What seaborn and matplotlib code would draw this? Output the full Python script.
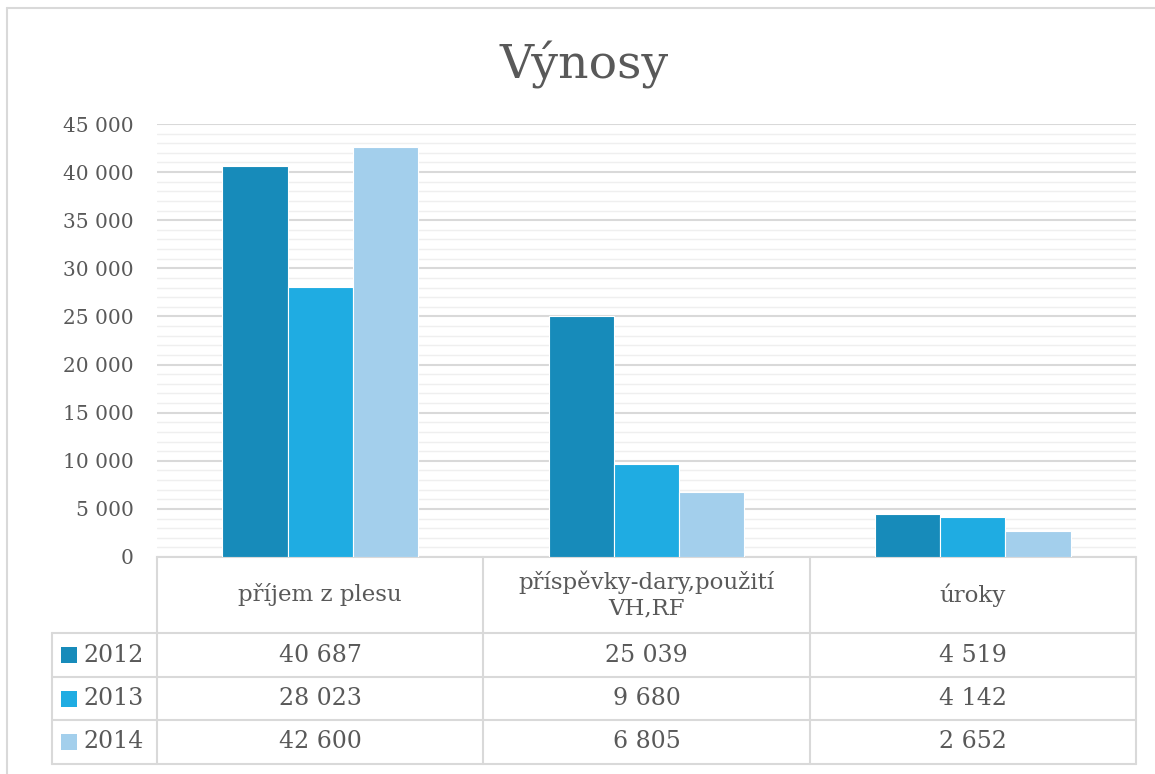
import numpy as np
import pandas as pd
import matplotlib
matplotlib.use("Agg")
import matplotlib.pyplot as plt
import matplotlib.transforms as mtransforms
from matplotlib.lines import Line2D
from matplotlib.patches import Rectangle
from matplotlib.ticker import FuncFormatter, MultipleLocator
import seaborn as sns

# data (table values)
kategorie = ["příjem z plesu", "příspěvky-dary,použití\nVH,RF", "úroky"]
roky = ["2012", "2013", "2014"]
hodnoty_2012 = [40687, 25039, 4519]
hodnoty_2013 = [28023, 9680, 4142]
hodnoty_2014 = [42600, 6805, 2652]
barvy = ["#178BBA", "#1FACE2", "#A3CFEC"]

df = pd.DataFrame({
    "kategorie": kategorie * 3,
    "rok": [r for r in roky for _ in kategorie],
    "hodnota": hodnoty_2012 + hodnoty_2013 + hodnoty_2014,
})

TEXT = "#595959"
GRID = "#D9D9D9"
GRID_MINOR = "#EFEFEF"
FONT = "DejaVu Serif"


def fmt(v):
    return f"{int(round(v)):,}".replace(",", " ")


sns.set_style("white")
plt.rcParams["font.family"] = [FONT]

W, H = 1155, 774
fig = plt.figure(figsize=(W / 100, H / 100), dpi=100)

# plot area in pixels: x 157..1136, y 124..557
ax = fig.add_axes([157 / W, (H - 557) / H, (1136 - 157) / W, (557 - 124) / H])

sns.barplot(data=df, x="kategorie", y="hodnota", hue="rok", palette=barvy,
            width=0.6, saturation=1, edgecolor="white", linewidth=0.8,
            ax=ax, legend=False, zorder=3)

ax.set_xlim(-0.5, 2.5)
ax.set_ylim(0, 45000)
ax.yaxis.set_major_locator(MultipleLocator(5000))
ax.yaxis.set_minor_locator(MultipleLocator(1000))
ax.yaxis.set_major_formatter(FuncFormatter(lambda v, p: fmt(v)))
ax.grid(which="major", axis="y", color=GRID, linewidth=1.5, zorder=0)
ax.grid(which="minor", axis="y", color=GRID_MINOR, linewidth=1.0, zorder=0)
ax.set_axisbelow(True)
ax.tick_params(axis="y", which="both", length=0, pad=17, labelsize=14.5, labelcolor=TEXT)
ax.set_xticks([])
ax.set_xlabel("")
ax.set_ylabel("")
for s in ["left", "right", "top"]:
    ax.spines[s].set_visible(False)
ax.spines["bottom"].set_color(GRID)
ax.spines["bottom"].set_linewidth(1.5)

# data table below the plot
tr = mtransforms.blended_transform_factory(ax.transData, ax.transAxes)
ph = 557 - 124
px_per_cat = (1136 - 157) / 3
row_px = [557, 633, 677, 720, 764]
row_y = [(557 - p) / ph for p in row_px]
col_x = [-0.5, 0.5, 1.5, 2.5]
leg_x = -0.5 - 105 / px_per_cat

line_kw = dict(color=GRID, linewidth=1.5, transform=tr, clip_on=False)
# vertical lines
for cx in col_x:
    ax.add_line(Line2D([cx, cx], [row_y[0], row_y[-1]], **line_kw))
ax.add_line(Line2D([leg_x, leg_x], [row_y[1], row_y[-1]], **line_kw))
# horizontal lines
for ry in row_y[1:]:
    ax.add_line(Line2D([leg_x, col_x[-1]], [ry, ry], **line_kw))

# header
for i, k in enumerate(kategorie):
    ax.text(i, (row_y[0] + row_y[1]) / 2, k, transform=tr, ha="center", va="center",
            fontsize=16.5, color=TEXT, linespacing=1.2, clip_on=False)

# value rows with legend keys
series = [hodnoty_2012, hodnoty_2013, hodnoty_2014]
for j, (rok, vals, c) in enumerate(zip(roky, series, barvy)):
    yc = (row_y[j + 1] + row_y[j + 2]) / 2
    for i, v in enumerate(vals):
        ax.text(i, yc, fmt(v), transform=tr, ha="center", va="center",
                fontsize=17, color=TEXT, clip_on=False)
    # legend key square
    kx = leg_x + 9 / px_per_cat
    kw = 16 / px_per_cat
    khh = 16 / ph
    ax.add_patch(Rectangle((kx, yc - khh / 2), kw, khh, transform=tr,
                           facecolor=c, edgecolor="none", clip_on=False))
    ax.text(kx + kw + 6 / px_per_cat, yc, rok, transform=tr, ha="left",
            va="center", fontsize=17, color=TEXT, clip_on=False)

# title
fig.text(584 / W, 1 - 65 / H, "Výnosy", ha="center", va="center",
         fontsize=34, color=TEXT)

# chart frame (top and left edges visible)
fig.add_artist(Line2D([7 / W, 1], [1 - 8 / H, 1 - 8 / H], color=GRID, linewidth=1.5,
                      transform=fig.transFigure))
fig.add_artist(Line2D([7 / W, 7 / W], [0, 1 - 8 / H], color=GRID, linewidth=1.5,
                      transform=fig.transFigure))

fig.savefig("out.png", dpi=100, facecolor="white")
